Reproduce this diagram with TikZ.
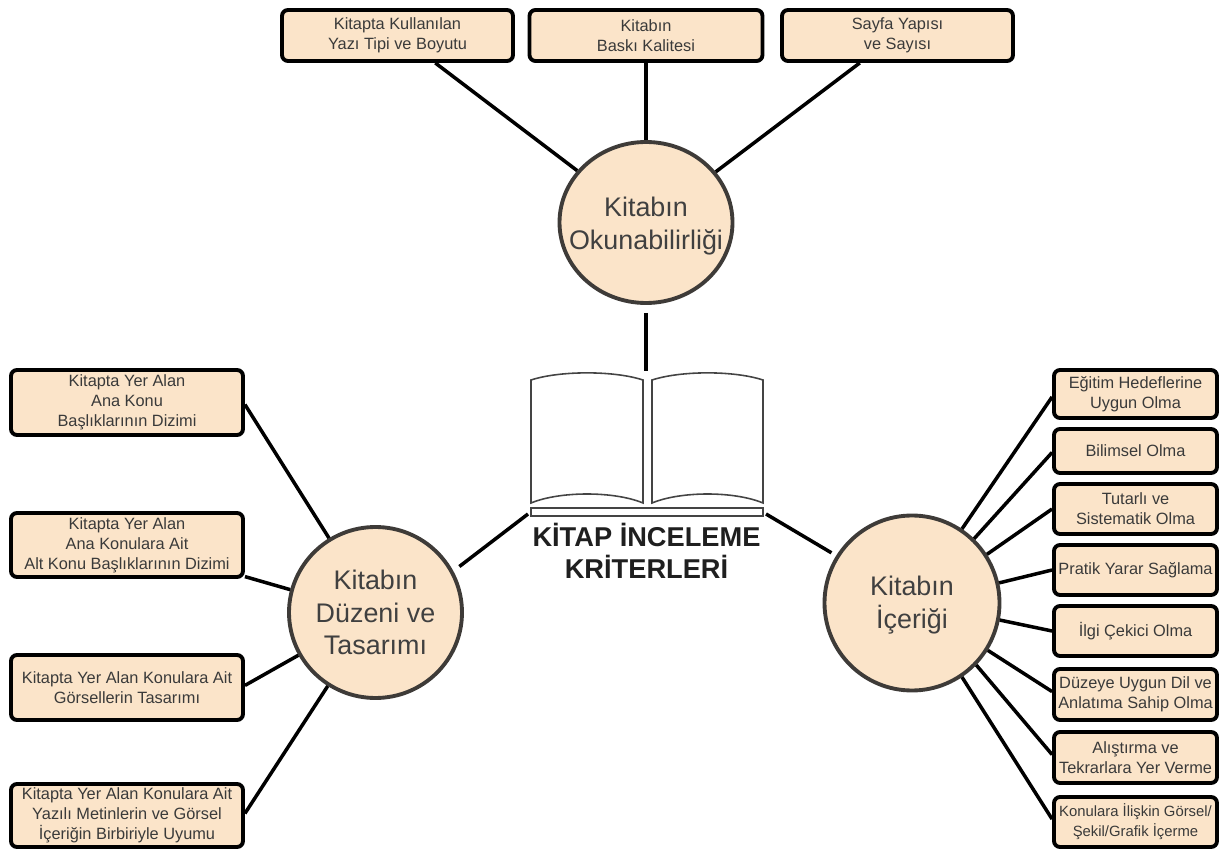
\documentclass[tikz,border=0pt]{standalone}
\usepackage{fontspec}
\setmainfont{Liberation Sans}
\usetikzlibrary{shapes.geometric}
\definecolor{peach}{HTML}{FBE4C9}
\definecolor{inktext}{HTML}{3A3A3A}
\definecolor{hubline}{HTML}{3E3B38}
\definecolor{bookline}{HTML}{444444}
\tikzset{
	crit/.style={draw=black,line width=2.2pt,rounded corners=3.4pt,fill=peach,text=inktext,align=center,inner sep=0pt,font=\fontsize{9.3}{11.3}\selectfont},
	hub/.style={ellipse,draw=hubline,line width=2.2pt,fill=peach,text=black!75,align=center,inner sep=-1cm,font=\fontsize{15.3}{18.7}\selectfont},
	link/.style={line width=2pt,draw=black},
	page/.style={draw=bookline,line width=0.9pt}
}
\begin{document}
\begin{tikzpicture}
\useasboundingbox (0,0) rectangle (24.4,17);

	\node[hub,minimum width=3.46cm,minimum height=3.22cm](read) at (12.92,12.55){\rule{0pt}{15.5pt}Kitabın\\Okunabilirliği};
	\node[crit,minimum width=4.62cm,minimum height=1.02cm](read1) at (7.95,16.29){Kitapta Kullanılan\\Yazı Tipi ve Boyutu};
	\node[crit,minimum width=4.66cm,minimum height=1.02cm](read2) at (12.92,16.29){Kitabın\\Baskı Kalitesi};
	\node[crit,minimum width=4.62cm,minimum height=1.02cm](read3) at (17.95,16.29){Sayfa Yapısı\\ve Sayısı};
	\draw[link](read1.-36)--(read.143.6);
	\draw[link](read2.south)--(read.north);
	\draw[link](read3.-144)--(read.36.2);

	\node[hub,minimum width=3.46cm,minimum height=3.42cm](layout) at (7.51,4.75){Kitabın\\Düzeni ve\\Tasarımı};
	\node[crit,minimum width=4.64cm,minimum height=1.30cm](layout1) at (2.54,8.95){Kitapta Yer Alan\\Ana Konu\\Başlıklarının Dizimi};
	\node[crit,minimum width=4.64cm,minimum height=1.28cm](layout2) at (2.54,6.10){Kitapta Yer Alan\\Ana Konulara Ait\\Alt Konu Başlıklarının Dizimi};
	\node[crit,minimum width=4.64cm,minimum height=1.30cm](layout3) at (2.54,3.25){Kitapta Yer Alan Konulara Ait\\Görsellerin Tasarımı};
	\node[crit,minimum width=4.64cm,minimum height=1.26cm](layout4) at (2.54,0.69){Kitapta Yer Alan Konulara Ait\\Yazılı Metinlerin ve Görsel\\İçeriğin Birbiriyle Uyumu};
	\draw[link](layout1.-1.2)--(layout.122);
	\draw[link](layout2.-15.2)--(layout.165.3);
	\draw[link](layout3.1.2)--(layout.209.9);
	\draw[link](layout4.1.7)--(layout.237.5);

	\node[hub,minimum width=3.50cm,minimum height=3.50cm](content) at (18.24,4.94){\rule{0pt}{13.3pt}Kitabın\\İçeriği};
	\node[crit,minimum width=3.26cm,minimum height=0.96cm](content1) at (22.71,9.12){Eğitim Hedeflerine\\Uygun Olma};
	\node[crit,minimum width=3.26cm,minimum height=0.88cm](content2) at (22.71,7.98){Bilimsel Olma};
	\node[crit,minimum width=3.26cm,minimum height=1.00cm](content3) at (22.71,6.82){Tutarlı ve\\Sistematik Olma};
	\node[crit,minimum width=3.26cm,minimum height=1.00cm](content4) at (22.71,5.60){Pratik Yarar Sağlama};
	\node[crit,minimum width=3.26cm,minimum height=1.00cm](content5) at (22.71,4.38){İlgi Çekici Olma};
	\node[crit,minimum width=3.26cm,minimum height=1.02cm](content6) at (22.71,3.11){Düzeye Uygun Dil ve\\Anlatıma Sahip Olma};
	\node[crit,minimum width=3.26cm,minimum height=1.02cm](content7) at (22.71,1.85){Alıştırma ve\\Tekrarlara Yer Verme};
	\node[crit,minimum width=3.26cm,minimum height=1.00cm,font=\fontsize{8.45}{11.3}\selectfont](content8) at (22.71,0.56){Konulara İlişkin Görsel/\\Şekil/Grafik İçerme};
	\draw[link](content.56.1)--(content1.182);
	\draw[link](content.46.8)--(content2.181.4);
	\draw[link](content.33.9)--(content3.180.7);
	\draw[link](content.13.1)--(content4.west);
	\draw[link](content.-11.9)--(content5.west);
	\draw[link](content.-32.8)--(content6.178.3);
	\draw[link](content.-44.6)--(content7.178.3);
	\draw[link](content.-56.3)--(content8.178.6);

% book in the middle
\draw[page](10.62,9.40) .. controls (11.2,9.59) and (12.28,9.59) .. (12.86,9.40) -- (12.86,6.94) .. controls (12.28,7.18) and (11.2,7.18) .. (10.62,6.94) -- cycle;
\draw[page](13.04,9.40) .. controls (13.62,9.59) and (14.68,9.59) .. (15.26,9.40) -- (15.26,6.94) .. controls (14.68,7.18) and (13.62,7.18) .. (13.04,6.94) -- cycle;
\node[draw=bookline,line width=0.9pt,minimum width=4.64cm,minimum height=0.16cm,inner sep=0pt](bookbase) at (12.94,6.76){};
\node[align=center,text=black!88,font=\fontsize{15.5}{18.2}\selectfont\bfseries](title) at (12.93,5.98){KİTAP İNCELEME\\KRİTERLERİ};

\coordinate(booktop) at (12.92,9.58);
\coordinate(bookleft) at (10.56,6.72);
\coordinate(bookright) at (15.32,6.72);
\draw[link,shorten <=0.16cm](read.south)--(booktop);
\draw[link,shorten >=0.15cm](bookleft)--(layout.28.3);
\draw[link,shorten >=0.11cm](bookright)--(content.148.3);
\end{tikzpicture}
\end{document}
